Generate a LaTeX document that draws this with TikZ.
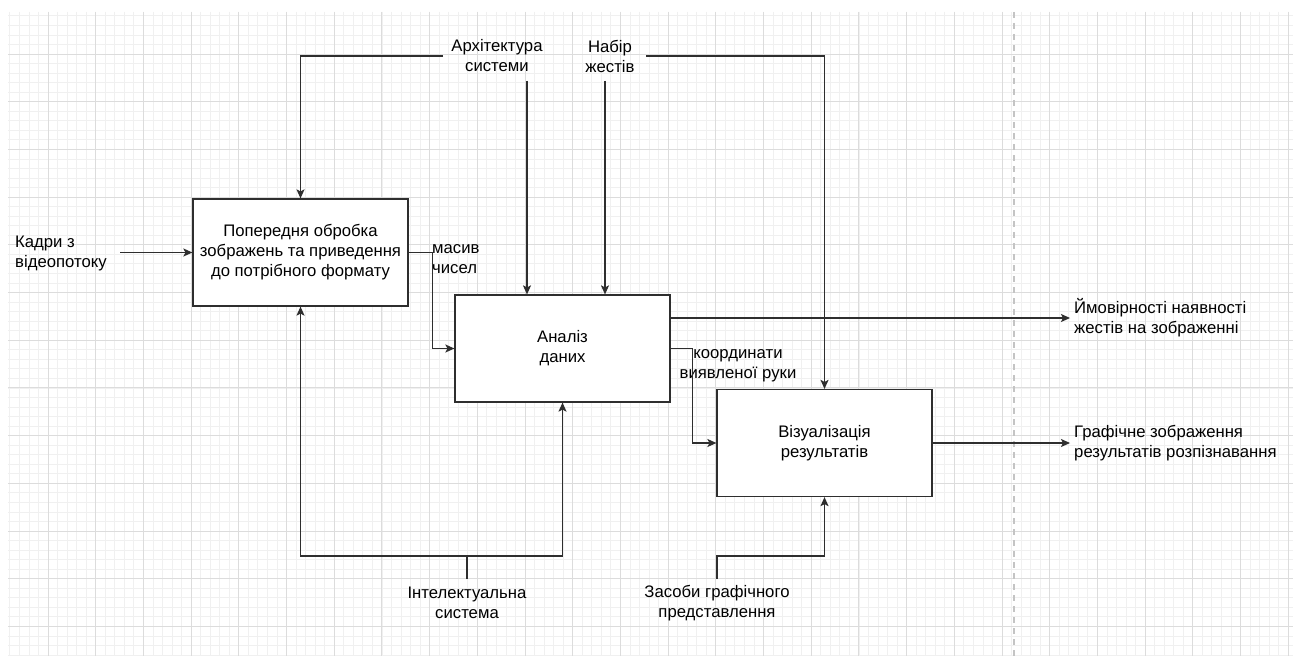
\documentclass[tikz,border=0pt]{standalone}
\usepackage{fontspec}
\setmainfont{Liberation Sans}
\usetikzlibrary{arrows.meta}
\definecolor{ln}{HTML}{2E2E2E}
\definecolor{gmaj}{HTML}{DCDCDC}
\definecolor{gmin}{HTML}{F0F0F0}
\definecolor{dsh}{HTML}{C4C4C4}
\begin{document}
\begin{tikzpicture}[x=1pt,y=-1pt,
  box/.style={draw=ln, line width=1.2pt, fill=white, minimum width=215pt, minimum height=107pt, inner sep=0pt, align=center, font=\fontsize{16.7}{20}\selectfont},
  lbl/.style={inner sep=0pt, align=center, font=\fontsize{16.7}{20}\selectfont},
  con/.style={draw=ln, line width=1.2pt},
  arr/.style={con, -{Stealth[length=9pt,width=8pt,inset=2pt]}}]
\fill[white] (0,0) rectangle (1297,666);
\useasboundingbox (0,0) rectangle (1297,666);
% grid
\begin{scope}
\clip (8,12) rectangle (1293,656);
\foreach \i in {0,...,136} \draw[gmin, line width=0.8pt] ({0.3+\i*9.54},12) -- ({0.3+\i*9.54},656);
\foreach \j in {0,...,68} \draw[gmin, line width=0.8pt] (8,{6.3+\j*9.54}) -- (1293,{6.3+\j*9.54});
\foreach \i in {0,...,27} \draw[gmaj, line width=0.9pt] ({0.3+\i*47.7},12) -- ({0.3+\i*47.7},656);
\foreach \j in {0,...,14} \draw[gmaj, line width=0.9pt] (8,{6.3+\j*47.7}) -- (1293,{6.3+\j*47.7});
\end{scope}
\draw[dsh, line width=1.2pt, dash pattern=on 6pt off 5pt] (1014,12) -- (1014,656);
% boxes
\node[box] (b1) at (300.5,252.5) {Попередня обробка\\зображень та приведення\\до потрібного формату};
\node[box] (b2) at (562.5,348.5) {Аналіз\\даних};
\node[box] (b3) at (824.5,443) {Візуалізація\\результатів};
% labels
\node[lbl, anchor=west, align=left] (in) at (15,253.5) {Кадри з\\відеопотоку};
\node[lbl] (arch) at (497,56) {Архітектура\\системи};
\node[lbl] (nab) at (610,56) {Набір\\жестів};
\node[lbl, anchor=west, align=left] (mas) at (432,259) {масив\\чисел};
\node[lbl] (coord) at (738,366) {координати\\виявленої руки};
\node[lbl, anchor=west, align=left, inner sep=4pt] (prob) at (1070,318) {Ймовірності наявності\\жестів на зображенні};
\node[lbl, anchor=west, align=left, inner sep=4pt] (graf) at (1070,443) {Графічне зображення\\результатів розпізнавання};
\node[lbl] (intel) at (467,603) {Інтелектуальна\\система};
\node[lbl] (zas) at (717,603) {Засоби графічного\\представлення};
% free ends
\coordinate (inS) at (120,252.5);
\coordinate (archL) at (443,56);
\coordinate (archB) at (527,81);
\coordinate (nabB) at (605,81);
\coordinate (nabR) at (646,56);
\coordinate (intT) at (467,579);
\coordinate (intJ) at (467,556);
\coordinate (zasT) at (717,579);
\coordinate (zasJ) at (717,556);
% connectors
\draw[arr] (inS) -- (b1.west);
\draw[arr] (archL) -| (b1.north);
\draw[arr] (archB) -- (archB |- b2.north);
\draw[arr] (nabB) -- (nabB |- b2.north);
\draw[arr] (nabR) -| (b3.north);
\draw[arr] (b1.east) -- ++(24,0) |- (b2.west);
\draw[arr] (b2.east |- prob.west) -- (prob.west);
\draw[arr] (b2.east) -- ++(22,0) |- (b3.west);
\draw[arr] (b3.east) -- (graf.west);
\draw[con] (intT) -- (intJ);
\draw[arr] (intJ) -| (b1.south);
\draw[arr] (intJ) -| (b2.south);
\draw[arr] (zasT) -- (zasJ) -| (b3.south);
\end{tikzpicture}
\end{document}
